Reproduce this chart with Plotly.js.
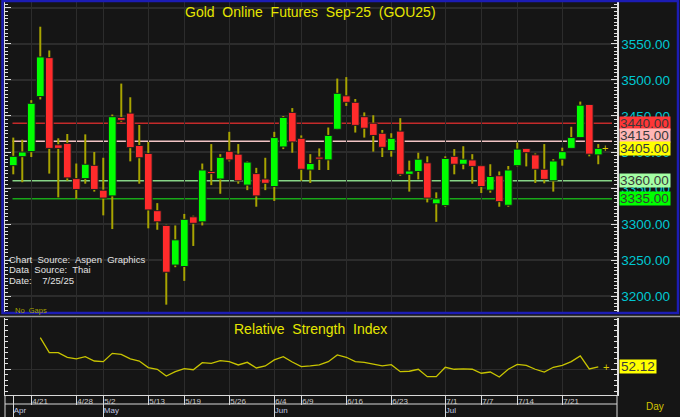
<!DOCTYPE html>
<html>
<head>
<meta charset="utf-8">
<script src="https://cdn.plot.ly/plotly-3.0.1.min.js"></script>
<style>html,body{margin:0;padding:0;background:#151515;}#chart{width:680px;height:417px;}</style>
</head>
<body>
<div id="chart"></div>
<script>
// ---- data ----
const dates = ["4/16","4/17","4/21","4/22","4/23","4/24","4/25","4/28","4/29","4/30","5/2","5/6","5/7","5/8","5/9","5/13","5/14","5/15","5/16","5/19","5/20","5/21","5/22","5/23","5/26","5/27","5/28","5/29","5/30","6/4","6/5","6/6","6/9","6/10","6/11","6/12","6/13","6/16","6/17","6/18","6/19","6/20","6/23","6/24","6/25","6/26","6/27","6/30","7/1","7/2","7/3","7/4","7/7","7/8","7/9","7/11","7/14","7/15","7/16","7/17","7/18","7/21","7/22","7/23","7/24","7/25"];
const open  = [3381,3393.5,3400.5,3477,3531,3410,3412,3363,3363,3381.5,3347,3339,3448,3454,3409,3398,3318.5,3298,3243,3241,3310,3303,3373,3362.5,3401,3397,3354,3370,3362.5,3352,3407,3455,3419,3375,3393,3389,3431.5,3478,3469,3449,3440,3426,3402,3429,3369,3373,3385,3328,3325.5,3394,3383,3389,3381,3347,3367,3326,3381,3405,3396,3376,3360,3390,3405,3420,3466,3396];
const high  = [3420,3417,3472,3574,3541,3419,3425,3384,3424.5,3400,3392,3452,3495,3476,3437.5,3414,3329,3299,3298,3314,3311.5,3384,3411,3397,3428,3411,3387,3378,3392,3428,3450,3461,3423,3397,3405,3434,3502,3504,3473.6,3455,3451,3430.6,3426,3447,3388,3399,3394,3344,3394,3404,3408,3397,3382,3383,3373,3380.6,3413,3405,3398,3411,3390,3406,3435,3470,3466,3411];
const low   = [3369,3358,3393,3473,3370,3337,3360,3335,3356,3345,3312,3293,3442,3387,3356,3294,3292,3188,3240,3221,3269.5,3298,3354,3342,3387,3356,3347,3324,3347,3332,3404,3399,3360,3357,3375,3375,3431,3464,3427,3420,3400.5,3393,3393.5,3367,3345,3362,3330,3303,3324,3369,3376,3356,3343,3343.5,3324,3324,3380,3380,3357,3356.5,3345,3381,3405,3420,3394,3383];
const close = [3394,3400,3467.6,3532,3405,3405,3364,3348,3383,3348,3336,3449,3444,3406,3392,3319.5,3303,3233,3278,3306.5,3301,3375,3370,3392.6,3389,3360,3386,3339,3356.5,3420,3448,3414,3376,3384,3390,3423,3481.5,3469,3437,3433,3423,3406.5,3419,3369,3373.6,3390,3336,3335,3391,3383,3390,3380,3352,3366,3331,3375,3404,3399,3376,3362,3387.5,3400.5,3420,3465,3397,3405];
const rsi   = [null,null,null,78.7,65.1,65.1,60.9,59.4,61.5,57.5,56.9,64.5,63.6,59.4,57.5,51.5,50.0,43.9,47.8,50.6,49.6,56.0,55.4,57.8,56.9,53.9,56.3,51.2,53.0,58.5,61.5,56.6,52.4,53.0,53.9,56.9,63.0,60.9,56.9,56.3,54.8,53.0,54.2,47.8,48.2,50.0,43.3,43.3,51.8,50.0,50.3,50.0,46.4,47.5,43.0,50.0,54.5,53.6,50.0,47.5,51.8,53.6,56.9,62.1,50.3,52.12];
const levels = [3440, 3415, 3360, 3335];
const dateTicks = ["4/21","4/28","5/2","5/13","5/19","5/26","6/4","6/9","6/16","6/23","7/1","7/7","7/14","7/21"];
const monthTicks = ["4/16","5/2","6/4","7/1"];
const monthLabels = ["Apr","May","Jun","Jul"];
const priceTicks = [3200,3250,3300,3350,3400,3450,3500,3550,3600];
const priceTickText = ["3200.00","3250.00","3300.00","3350.00","3400.00","3450.00","3500.00","3550.00",""];
const rsiTicks = [50];
const rsiTickText = ["50"];
const title = "Gold\u00a0 Online\u00a0 Futures\u00a0 Sep-25\u00a0 (GOU25)";
const rsiTitle = "Relative\u00a0 Strength\u00a0 Index";
const notes = ["Chart\u00a0 Source:\u00a0 Aspen\u00a0 Graphics","Data\u00a0 Source:\u00a0 Thai","Date:\u00a0\u00a0\u00a0 7/25/25"];

// ---- styles ----
const FONT = "Liberation Sans, Arial, sans-serif";
const lastClose = close[close.length-1];
const lastRsi = rsi[rsi.length-1];
const bodyLow = open.map((o,i)=>Math.min(o,close[i]));
const bodyLen = open.map((o,i)=>Math.max(Math.abs(close[i]-o),1.2));
const wickLen = high.map((h,i)=>h-low[i]);
const bodyColors = open.map((o,i)=> close[i]>=o ? "#00ff00" : "#ff2b2b");
const levelLineColors = ["#c42a2a","#f2c4c4","#86d486","#18a818"];
const tagLevels = [levels[0], levels[1], lastClose, levels[2], levels[3]];
const tagColors = ["#ff3636","#ffb6b6","#ffff00","#a4ffa4","#00ff00"];
const tagShift = [0, 5.5, 0, 0, 0];

// px -> paper helpers (plot area: x 5..617, y 2..395)
const L=5, R=63, T=2, B=22, W=680, H=417;
const PW=W-L-R, PH=H-T-B;
const px=x=>(x-L)/PW, py=y=>(H-B-y)/PH;

const traces = [
  {type:"bar", x:dates, base:low, y:wickLen, width:0.22, xaxis:"x", yaxis:"y",
   marker:{color:"#a8a400", line:{width:0}}, hoverinfo:"skip", showlegend:false},
  {type:"bar", x:dates, base:bodyLow, y:bodyLen, width:0.86, xaxis:"x", yaxis:"y",
   marker:{color:bodyColors, line:{color:"#1c1c1c", width:1}}, hoverinfo:"skip", showlegend:false},
  {type:"scatter", mode:"lines", x:dates, y:rsi, xaxis:"x", yaxis:"y2",
   line:{color:"#c8c400",width:1.3}, hoverinfo:"skip", showlegend:false},
  {type:"scatter", mode:"markers", x:dates, y:rsi.map(()=>null), xaxis:"x3", yaxis:"y2",
   marker:{opacity:0}, hoverinfo:"skip", showlegend:false}
];

const shapes = [];
levels.forEach((lv,i)=>{
  shapes.push({type:"line", xref:"paper", yref:"y", x0:px(12.5), x1:px(612), y0:lv, y1:lv,
    line:{color:levelLineColors[i], width:1.6}, layer:"below"});
});
// frame lines
shapes.push({type:"rect", xref:"paper", yref:"paper", x0:px(2.5), x1:px(678), y0:py(313), y1:py(1),
  line:{color:"#1c1cb4", width:2.5}});
shapes.push({type:"line", xref:"paper", yref:"paper", x0:px(0), x1:px(680), y0:py(316.5), y1:py(316.5),
  line:{color:"#9a9a9a", width:1.5}});
shapes.push({type:"line", xref:"paper", yref:"paper", x0:0, x1:1, y0:py(404), y1:py(404),
  line:{color:"#d8d8d8", width:1}});
shapes.push({type:"line", xref:"paper", yref:"paper", x0:1, x1:1, y0:py(395), y1:py(417),
  line:{color:"#d8d8d8", width:1}});
shapes.push({type:"line", xref:"paper", yref:"paper", x0:0, x1:0, y0:py(395), y1:py(417),
  line:{color:"#d8d8d8", width:1}});

const annotations = [];
tagLevels.forEach((lv,i)=>{
  annotations.push({xref:"paper", yref:"y", x:1, y:lv, xanchor:"left", yanchor:"middle", xshift:1.5,
    yshift:tagShift[i], text:lv.toFixed(2), showarrow:false, bgcolor:tagColors[i], borderpad:0,
    height:12.5, width:50, align:"left",
    font:{family:FONT, size:13.5, color:"#3a3a3a"}});
});
annotations.push({xref:"paper", yref:"y2", x:1, y:lastRsi, xanchor:"left", yanchor:"middle", xshift:1.5,
  text:lastRsi.toFixed(2), showarrow:false, bgcolor:"#ffff00", borderpad:0, height:12.5, width:36,
  font:{family:FONT, size:13.5, color:"#3a3a3a"}});
annotations.push({xref:"paper", yref:"y", x:px(610), y:lastClose, text:"+", showarrow:false,
  font:{family:FONT, size:11, color:"#d8c800"}});
annotations.push({xref:"paper", yref:"y2", x:px(611), y:lastRsi, text:"+", showarrow:false,
  font:{family:FONT, size:11, color:"#d8c800"}});
annotations.push({xref:"paper", yref:"paper", x:px(310), y:py(12), text:title, showarrow:false,
  xanchor:"center", yanchor:"middle", font:{family:FONT, size:14, color:"#e6e600"}});
annotations.push({xref:"paper", yref:"paper", x:px(310), y:py(329), text:rsiTitle, showarrow:false,
  xanchor:"center", yanchor:"middle", font:{family:FONT, size:14, color:"#e6e600"}});
notes.forEach((t,i)=>{
  annotations.push({xref:"paper", yref:"paper", x:px(7), y:py(259+i*10.5), text:t, showarrow:false,
    xanchor:"left", yanchor:"middle", font:{family:FONT, size:9.5, color:"#e2e2e2"}});
});
annotations.push({xref:"paper", yref:"paper", x:px(13), y:py(310), text:"No\u00a0 Gaps", showarrow:false,
  xanchor:"left", yanchor:"middle", font:{family:FONT, size:7.5, color:"#a8a400"}});
annotations.push({xref:"paper", yref:"paper", x:px(655), y:py(406), text:"Day", showarrow:false,
  xanchor:"center", yanchor:"middle", font:{family:FONT, size:10, color:"#d4c400"}});

const xr = [-0.92, 67.08];
const layout = {
  width:W, height:H, margin:{l:L, r:R, t:T, b:B, pad:0},
  paper_bgcolor:"#151515", plot_bgcolor:"#151515",
  font:{family:FONT, color:"#d0d0d0"},
  showlegend:false, barmode:"overlay", hovermode:false,
  xaxis:{type:"category", categoryorder:"array", categoryarray:dates, range:xr, anchor:"y2",
    tickmode:"array", tickvals:dateTicks, ticktext:dateTicks,
    showgrid:true, gridcolor:"#2c2c2c", gridwidth:1.5, showline:true, linecolor:"#d8d8d8", linewidth:1,
    ticks:"outside", ticklen:9, tickcolor:"#d8d8d8", tickwidth:1,
    ticklabelposition:"outside right", ticklabelstandoff:-2,
    tickfont:{family:FONT, size:8, color:"#c8c8c8"}, zeroline:false, fixedrange:true},
  xaxis3:{type:"category", categoryorder:"array", categoryarray:dates, range:xr, overlaying:"x",
    anchor:"free", position:0, side:"bottom", tickmode:"array", tickvals:monthTicks, ticktext:monthLabels,
    showgrid:false, showline:false, ticks:"outside", ticklen:22, tickcolor:"#d8d8d8", tickwidth:1,
    ticklabelposition:"outside right", ticklabelstandoff:7,
    tickfont:{family:FONT, size:8, color:"#c0c8e4"}, zeroline:false},
  yaxis:{domain:[py(312),1], range:[3177.8,3608.3], side:"right", tickmode:"array",
    tickvals:priceTicks, ticktext:priceTickText, showgrid:true, gridcolor:"#2c2c2c", gridwidth:1.5,
    showline:true, linecolor:"#e0e0e0", linewidth:1.5, mirror:"ticks",
    ticks:"inside", ticklen:6, tickcolor:"#e0e0e0", tickwidth:1,
    minor:{tickmode:"linear", tick0:3200, dtick:5, ticks:"inside", ticklen:3, tickcolor:"#e0e0e0", showgrid:false},
    tickfont:{family:FONT, size:13.5, color:"#00c8d2"}, zeroline:false, fixedrange:true},
  yaxis2:{domain:[0,py(318)], range:[26.6,96.6], side:"right", anchor:"x", tickmode:"array",
    tickvals:rsiTicks, ticktext:rsiTickText, showgrid:true, gridcolor:"#2c2c2c", gridwidth:1.5,
    showline:true, linecolor:"#e0e0e0", linewidth:1.5, mirror:"ticks",
    ticks:"inside", ticklen:6, tickcolor:"#e0e0e0", tickwidth:1,
    minor:{tickmode:"linear", tick0:0, dtick:5, ticks:"inside", ticklen:3, tickcolor:"#e0e0e0", showgrid:false},
    tickfont:{family:FONT, size:12, color:"#b0b0b0"}, zeroline:false, fixedrange:true},
  shapes:shapes, annotations:annotations
};
Plotly.newPlot("chart", traces, layout, {staticPlot:true, displayModeBar:false});
</script>
</body>
</html>
